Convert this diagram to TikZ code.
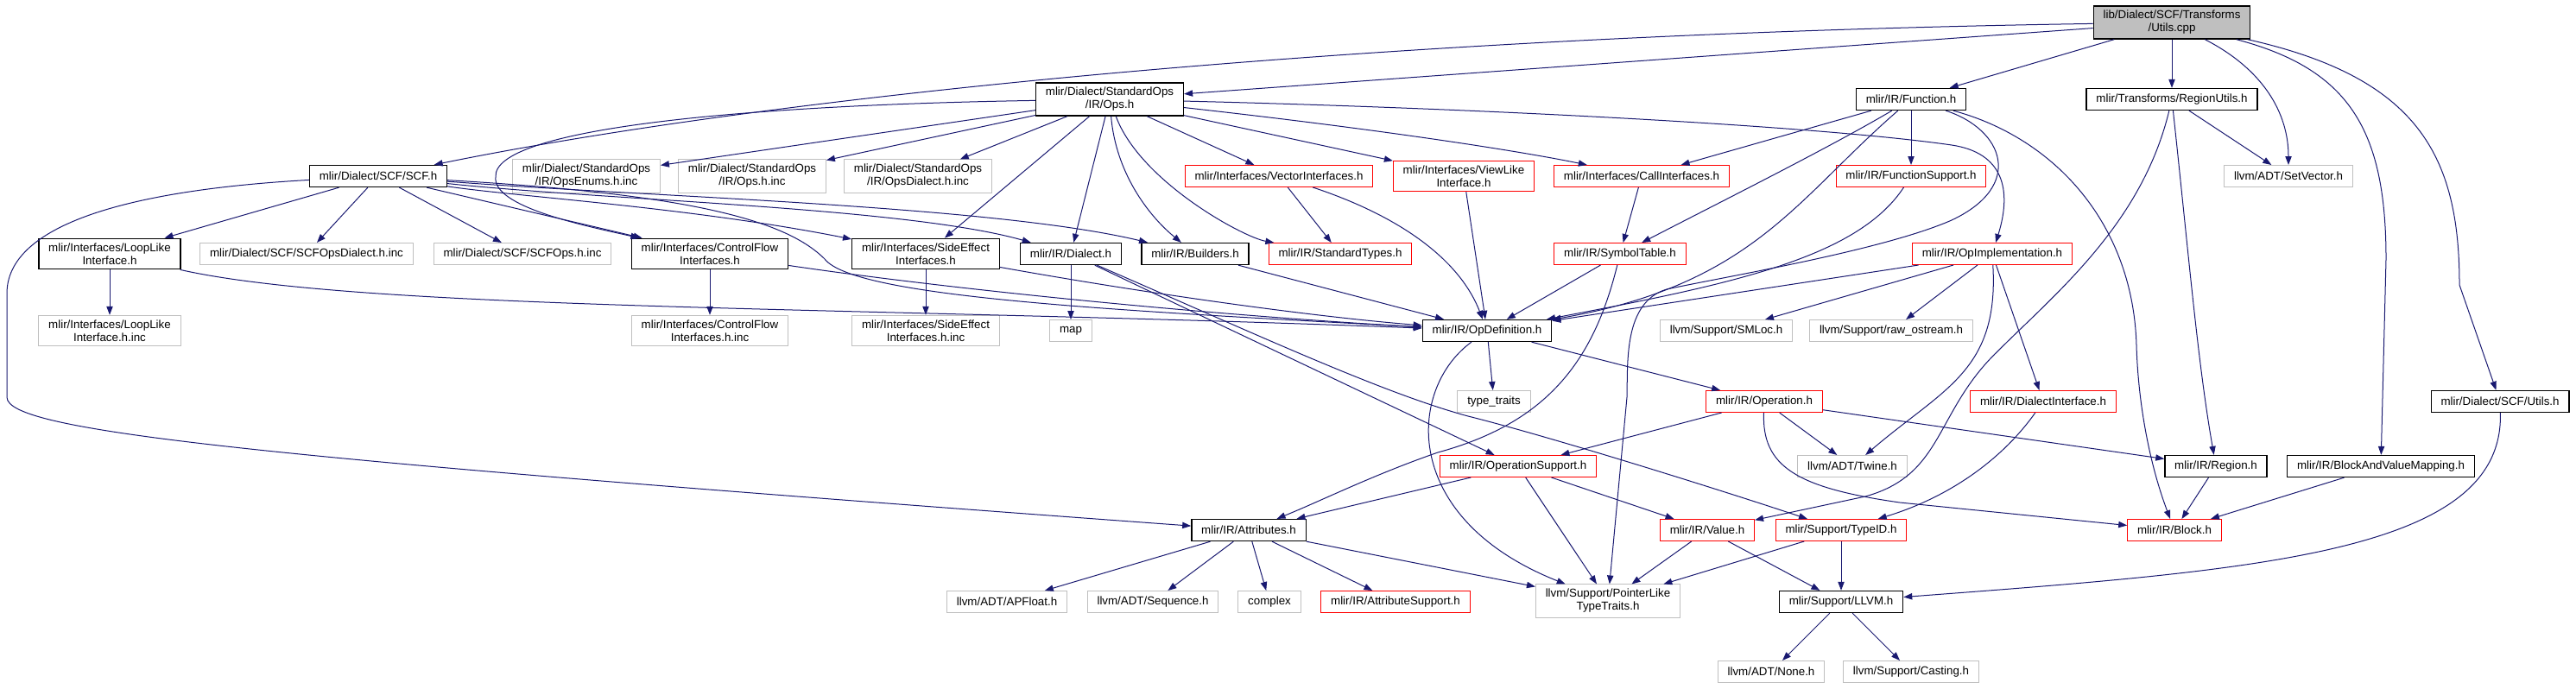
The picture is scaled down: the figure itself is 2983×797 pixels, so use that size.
\documentclass[tikz,border=0pt]{standalone}
\usepackage{fontspec}
\setmainfont{Liberation Sans}
\usetikzlibrary{arrows.meta}
\definecolor{edgeblue}{HTML}{191970}
\definecolor{boxgrey}{HTML}{BFBFBF}
\begin{document}
\begin{tikzpicture}[
x=0.75pt,
y=-0.75pt,
every node/.style={
draw,
fill=white,
rectangle,
align=center,
font=\fontsize{10}{11.25}\selectfont,
inner xsep=8.5pt,
inner ysep=4pt,
minimum height=18.75pt,
line width=0.75pt
},
doc/.style={draw=black, line width=1pt},
ext/.style={draw=boxgrey},
trunc/.style={draw=red},
root/.style={draw=black, fill=boxgrey, line width=1pt},
edge/.style={draw=edgeblue, line width=0.75pt, -{Triangle[length=7.5pt,width=5.5pt]}}
]

\useasboundingbox (0,0) rectangle (2983,797);

\node[root] (U) at (2515,26)
{lib/Dialect/SCF/Transforms\\/Utils.cpp};

\node[doc] (Ops) at (1285,115)
{mlir/Dialect/StandardOps\\/IR/Ops.h};

\node[doc] (Fn) at (2213,115)
{mlir/IR/Function.h};

\node[doc] (RU) at (2515,115)
{mlir/Transforms/RegionUtils.h};

\node[doc] (SCF) at (438,204)
{mlir/Dialect/SCF/SCF.h};

\node[ext] (En) at (679,204)
{mlir/Dialect/StandardOps\\/IR/OpsEnums.h.inc};

\node[ext] (OpsI) at (871,204)
{mlir/Dialect/StandardOps\\/IR/Ops.h.inc};

\node[ext] (OpsD) at (1063,204)
{mlir/Dialect/StandardOps\\/IR/OpsDialect.h.inc};

\node[trunc] (Vec) at (1481,204)
{mlir/Interfaces/VectorInterfaces.h};

\node[trunc] (VL) at (1695,204)
{mlir/Interfaces/ViewLike\\Interface.h};

\node[trunc] (Call) at (1901,204)
{mlir/Interfaces/CallInterfaces.h};

\node[trunc] (FS) at (2213,204)
{mlir/IR/FunctionSupport.h};

\node[ext] (SV) at (2650,204)
{llvm/ADT/SetVector.h};

\node[doc] (LL) at (127,294)
{mlir/Interfaces/LoopLike\\Interface.h};

\node[ext] (SD) at (355,294)
{mlir/Dialect/SCF/SCFOpsDialect.h.inc};

\node[ext] (SO) at (605,294)
{mlir/Dialect/SCF/SCFOps.h.inc};

\node[doc] (CF) at (822,294)
{mlir/Interfaces/ControlFlow\\Interfaces.h};

\node[doc] (SE) at (1072,294)
{mlir/Interfaces/SideEffect\\Interfaces.h};

\node[doc] (Di) at (1240,294)
{mlir/IR/Dialect.h};

\node[doc] (Bu) at (1384,294)
{mlir/IR/Builders.h};

\node[trunc] (ST) at (1552,294)
{mlir/IR/StandardTypes.h};

\node[trunc] (Sym) at (1876,294)
{mlir/IR/SymbolTable.h};

\node[trunc] (OI) at (2307,294)
{mlir/IR/OpImplementation.h};

\node[ext] (LLi) at (127,383)
{mlir/Interfaces/LoopLike\\Interface.h.inc};

\node[ext] (CFi) at (822,383)
{mlir/Interfaces/ControlFlow\\Interfaces.h.inc};

\node[ext] (SEi) at (1072,383)
{mlir/Interfaces/SideEffect\\Interfaces.h.inc};

\node[ext] (Map) at (1240,383)
{map};

\node[doc] (OD) at (1722,383)
{mlir/IR/OpDefinition.h};

\node[ext] (SM) at (1999,383)
{llvm/Support/SMLoc.h};

\node[ext] (Raw) at (2190,383)
{llvm/Support/raw\_ostream.h};

\node[ext] (TT) at (1730,465)
{type\_traits};

\node[trunc] (Op) at (2043,465)
{mlir/IR/Operation.h};

\node[trunc] (DI) at (2366,465)
{mlir/IR/DialectInterface.h};

\node[doc] (SU) at (2895,465)
{mlir/Dialect/SCF/Utils.h};

\node[trunc] (OS) at (1758,540)
{mlir/IR/OperationSupport.h};

\node[ext] (Tw) at (2145,540)
{llvm/ADT/Twine.h};

\node[doc] (Rg) at (2566,540)
{mlir/IR/Region.h};

\node[doc] (BV) at (2757,540)
{mlir/IR/BlockAndValueMapping.h};

\node[doc] (At) at (1446,614)
{mlir/IR/Attributes.h};

\node[trunc] (Va) at (1977,614)
{mlir/IR/Value.h};

\node[trunc] (TI) at (2132,614)
{mlir/Support/TypeID.h};

\node[trunc] (Bl) at (2518,614)
{mlir/IR/Block.h};

\node[ext] (APF) at (1166,697)
{llvm/ADT/APFloat.h};

\node[ext] (Seq) at (1335,697)
{llvm/ADT/Sequence.h};

\node[ext] (Cx) at (1470,697)
{complex};

\node[trunc] (AS) at (1616,697)
{mlir/IR/AttributeSupport.h};

\node[ext] (PL) at (1862,696)
{llvm/Support/PointerLike\\TypeTraits.h};

\node[doc] (LV) at (2132,697)
{mlir/Support/LLVM.h};

\node[ext] (No) at (2051,778)
{llvm/ADT/None.h};

\node[ext] (Ca) at (2213,778)
{llvm/Support/Casting.h};

\draw[edge] (U) -- (Ops);
\draw[edge] (U) .. controls (1600,40) and (900,110) .. (SCF);
\draw[edge] (U) -- (Fn);
\draw[edge] (U) -- (RU);
\draw[edge] (U) .. controls (2620,80) and (2650,130) .. (SV);
\draw[edge] (U) .. controls (2720,80) and (2763,150) .. (2763,300) -- (BV);
\draw[edge] (U) .. controls (2800,90) and (2848,180) .. (2848,330) -- (SU);
\draw[edge] (Ops) -- (En);
\draw[edge] (Ops) -- (OpsI);
\draw[edge] (Ops) -- (OpsD);
\draw[edge] (Ops) .. controls (850,122) and (570,150) .. (574,205) .. controls (570,240) and (680,262) .. (CF);
\draw[edge] (Ops) -- (SE);
\draw[edge] (Ops) -- (Di);
\draw[edge] (Ops) .. controls (1292,200) and (1330,250) .. (Bu);
\draw[edge] (Ops) .. controls (1320,210) and (1440,275) .. (ST);
\draw[edge] (Ops) -- (Vec);
\draw[edge] (Ops) -- (VL);
\draw[edge] (Ops) .. controls (1600,150) and (1760,175) .. (Call);
\draw[edge] (Ops) .. controls (1700,125) and (2100,145) .. (2260,168) .. controls (2320,177) and (2330,220) .. (OI);
\draw[edge] (Fn) -- (Call);
\draw[edge] (Fn) .. controls (2120,170) and (2000,230) .. (Sym);
\draw[edge] (Fn) .. controls (2080,230) and (2030,330) .. (OD);
\draw[edge] (Fn) -- (FS);
\draw[edge] (Fn) .. controls (2320,150) and (2345,215) .. (2260,255) .. controls (2180,290) and (2000,320) .. (1930,335) .. controls (1880,350) and (1885,420) .. (1884,460) -- (PL);
\draw[edge] (Fn) .. controls (2380,160) and (2470,260) .. (2474,400) .. controls (2476,470) and (2490,540) .. (Bl);
\draw[edge] (RU) .. controls (2480,260) and (2380,340) .. (2310,410) .. controls (2240,480) and (2250,550) .. (2160,575) -- (Va);
\draw[edge] (RU) .. controls (2535,300) and (2545,420) .. (Rg);
\draw[edge] (RU) -- (SV);
\draw[edge] (SCF) .. controls (150,220) and (8,260) .. (8,340) -- (8,460) .. controls (8,500) and (300,530) .. (At);
\draw[edge] (SCF) -- (LL);
\draw[edge] (SCF) -- (SD);
\draw[edge] (SCF) -- (SO);
\draw[edge] (SCF) -- (CF);
\draw[edge] (SCF) .. controls (600,228) and (800,240) .. (SE);
\draw[edge] (SCF) .. controls (700,232) and (1050,240) .. (Di);
\draw[edge] (SCF) .. controls (750,228) and (1150,238) .. (Bu);
\draw[edge] (SCF) .. controls (800,225) and (910,255) .. (955,300) .. controls (990,345) and (1300,360) .. (OD);
\draw[edge] (LL) -- (LLi);
\draw[edge] (LL) .. controls (420,360) and (1000,355) .. (OD);
\draw[edge] (CF) -- (CFi);
\draw[edge] (CF) .. controls (1100,335) and (1400,365) .. (OD);
\draw[edge] (SE) -- (SEi);
\draw[edge] (SE) .. controls (1300,335) and (1500,365) .. (OD);
\draw[edge] (Di) -- (Map);
\draw[edge] (Di) -- (OS);
\draw[edge] (Di) .. controls (1450,385) and (1600,455) .. (1700,482) .. controls (1800,507) and (2000,570) .. (TI);
\draw[edge] (Bu) -- (OD);
\draw[edge] (Vec) -- (ST);
\draw[edge] (Vec) .. controls (1620,250) and (1690,300) .. (OD);
\draw[edge] (VL) -- (OD);
\draw[edge] (Call) -- (Sym);
\draw[edge] (Sym) -- (OD);
\draw[edge] (Sym) .. controls (1845,420) and (1790,490) .. (1665,524) .. controls (1590,550) and (1530,580) .. (At);
\draw[edge] (FS) .. controls (2150,300) and (2000,330) .. (OD);
\draw[edge] (OI) -- (OD);
\draw[edge] (OI) -- (SM);
\draw[edge] (OI) -- (Raw);
\draw[edge] (OI) .. controls (2315,430) and (2250,450) .. (Tw);
\draw[edge] (OI) -- (DI);
\draw[edge] (OD) -- (TT);
\draw[edge] (OD) -- (Op);
\draw[edge] (OD) .. controls (1630,450) and (1620,600) .. (PL);
\draw[edge] (Op) -- (OS);
\draw[edge] (Op) -- (Tw);
\draw[edge] (Op) -- (Rg);
\draw[edge] (Op) .. controls (2040,540) and (2080,565) .. (2200,582) -- (Bl);
\draw[edge] (OS) -- (At);
\draw[edge] (OS) -- (PL);
\draw[edge] (OS) -- (Va);
\draw[edge] (Va) -- (PL);
\draw[edge] (Va) -- (LV);
\draw[edge] (TI) -- (PL);
\draw[edge] (TI) -- (LV);
\draw[edge] (DI) .. controls (2320,530) and (2260,575) .. (TI);
\draw[edge] (At) -- (APF);
\draw[edge] (At) -- (Seq);
\draw[edge] (At) -- (Cx);
\draw[edge] (At) -- (AS);
\draw[edge] (At) -- (PL);
\draw[edge] (Rg) -- (Bl);
\draw[edge] (BV) -- (Bl);
\draw[edge] (SU) .. controls (2900,640) and (2620,660) .. (LV);
\draw[edge] (LV) -- (No);
\draw[edge] (LV) -- (Ca);

\end{tikzpicture}
\end{document}
